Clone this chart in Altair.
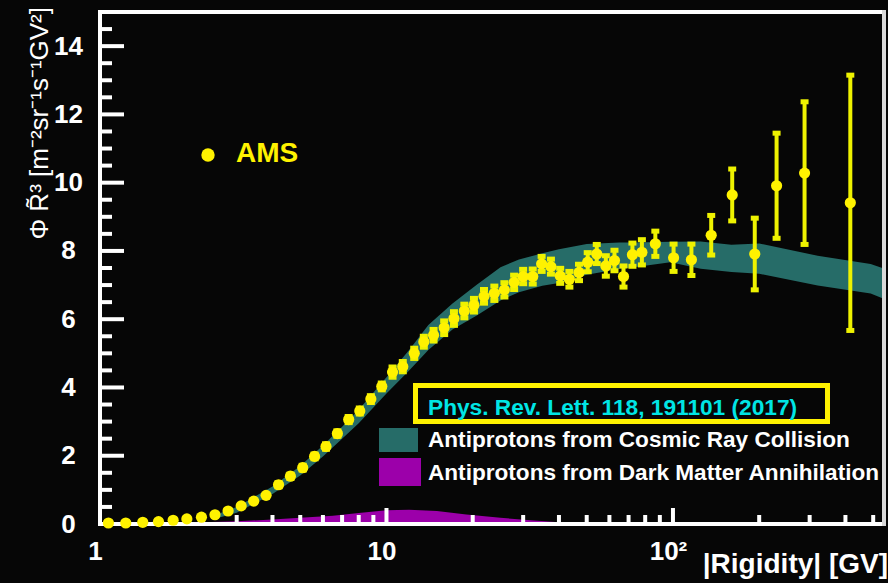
import altair as alt
import pandas as pd

# ---------------- data ----------------
rigidity = [1.07, 1.23, 1.41, 1.60, 1.80, 2.01, 2.26, 2.52, 2.80, 3.11,
            3.44, 3.80, 4.20, 4.62, 5.10, 5.61, 6.15, 6.74, 7.38, 8.07,
            8.82, 9.63, 10.5, 11.4, 12.5, 13.5, 14.6, 15.9, 17.2, 18.7,
            20.2, 21.9, 23.8, 25.8, 27.9, 30.0, 32.4, 34.8, 37.5, 40.4,
            43.5, 47.0, 50.4, 54.2, 58.3, 62.5, 67.2, 72.2, 77.9, 86.8,
            100.5, 116, 136, 161, 193, 230, 288, 416]
flux = [0.03, 0.03, 0.05, 0.07, 0.11, 0.15, 0.20, 0.27, 0.38, 0.53,
        0.67, 0.84, 1.15, 1.40, 1.65, 1.98, 2.27, 2.65, 3.06, 3.31,
        3.66, 4.03, 4.45, 4.61, 5.00, 5.34, 5.53, 5.75, 6.02, 6.24,
        6.41, 6.67, 6.76, 6.86, 7.08, 7.25, 7.25, 7.62, 7.54, 7.27,
        7.17, 7.37, 7.67, 7.91, 7.56, 7.72, 7.25, 7.89, 7.96, 8.21,
        7.80, 7.74, 8.46, 9.64, 7.91, 9.91, 10.28, 9.41]
flux_err = [0.02, 0.02, 0.02, 0.02, 0.02, 0.02, 0.02, 0.02, 0.02, 0.02,
            0.02, 0.02, 0.06, 0.06, 0.07, 0.07, 0.08, 0.08, 0.09, 0.09,
            0.10, 0.10, 0.15, 0.15, 0.15, 0.16, 0.17, 0.20, 0.20, 0.20,
            0.20, 0.20, 0.21, 0.21, 0.21, 0.21, 0.22, 0.22, 0.22, 0.22,
            0.23, 0.24, 0.28, 0.28, 0.30, 0.30, 0.31, 0.34, 0.37, 0.37,
            0.40, 0.46, 0.58, 0.76, 1.05, 1.54, 2.09, 3.74]

band_rigidity = [2.5, 3, 4, 5, 6, 7, 8, 10, 12, 14, 17, 20.6, 25, 29, 35,
                 40, 50, 65, 73, 98, 125, 160, 200, 320, 490, 541]
band_low = [0.15, 0.33, 0.88, 1.42, 1.98, 2.50, 2.95, 3.82, 4.50, 5.10,
            5.70, 6.10, 6.55, 6.79, 6.98, 7.06, 7.30, 7.47, 7.52, 7.67,
            7.48, 7.38, 7.33, 6.99, 6.75, 6.61]
band_high = [0.25, 0.50, 1.10, 1.70, 2.30, 2.85, 3.35, 4.30, 5.10, 5.83,
             6.46, 7.00, 7.52, 7.75, 7.93, 8.05, 8.20, 8.25, 8.25, 8.27,
             8.28, 8.18, 8.22, 7.86, 7.62, 7.49]

dm_rigidity = [1.0, 2, 3, 4, 5, 6.5, 8, 10, 12, 15, 19, 25, 31, 40, 55]
dm_flux = [0.02, 0.04, 0.08, 0.13, 0.18, 0.24, 0.32, 0.40, 0.42, 0.38,
           0.28, 0.18, 0.12, 0.05, 0.0]

x_major_ticks = [1, 10, 100]
x_minor_ticks = [2, 3, 4, 5, 6, 7, 8, 9, 20, 30, 40, 50, 60, 70, 80, 90,
                 200, 300, 400, 500]
y_major_ticks = [0, 2, 4, 6, 8, 10, 12, 14]
y_minor_ticks = [0.5, 1, 1.5, 2.5, 3, 3.5, 4.5, 5, 5.5, 6.5, 7, 7.5, 8.5,
                 9, 9.5, 10.5, 11, 11.5, 12.5, 13, 13.5, 14.5]

x_title = "|Rigidity| [GV]"
y_title = "Φ R̃³ [m⁻²sr⁻¹s⁻¹GV²]"
ams_label = "AMS"
ref_label = "Phys. Rev. Lett. 118, 191101 (2017)"
cr_label = "Antiprotons from Cosmic Ray Collision"
dm_label = "Antiprotons from Dark Matter Annihilation"

# ---------------- style ----------------
W, H = 783, 512
FONT = "Liberation Sans"
BG = "#060606"
YEL = "#fff200"
YEL_BAR = "#eef200"
TEAL = "#266c68"
PURPLE = "#9c00aa"
CYAN = "#00e5e5"

pts = pd.DataFrame({
    "r": rigidity,
    "f": flux,
    "lo": [f - e for f, e in zip(flux, flux_err)],
    "hi": [f + e for f, e in zip(flux, flux_err)],
})
band = pd.DataFrame({"r": band_rigidity, "lo": band_low, "hi": band_high})
dm = pd.DataFrame({"r": dm_rigidity, "f": dm_flux})
ann = pd.DataFrame({"k": [0]})

xs = alt.Scale(type="log", domain=[1, 541], nice=False)
ys = alt.Scale(domain=[0, 15], nice=False, zero=False)

xax = alt.Axis(values=x_major_ticks, title=None, ticks=False, domain=False,
               grid=False, labelFont=FONT, labelFontSize=26,
               labelFontWeight="bold", labelColor="white", labelPadding=14,
               labelOffset=-5, labelFlush=False, labelOverlap=False,
               labelExpr="datum.value == 100 ? '10²' : datum.value == 10 ? '10' : '1'")
yax = alt.Axis(values=y_major_ticks, title=None, ticks=False, domain=False,
               grid=False, labelFont=FONT, labelFontSize=26,
               labelFontWeight="bold", labelColor="white", labelPadding=32,
               labelAlign="center", labelBaseline="middle", format="d",
               labelFlush=False, labelOverlap=False)

X = lambda f: alt.X(f, type="quantitative", scale=xs, axis=xax)
Y = lambda f: alt.Y(f, type="quantitative", scale=ys, axis=yax)

dm_area = alt.Chart(dm).mark_area(color=PURPLE, clip=True).encode(
    x=X("r"), y=Y("f"))

band_area = alt.Chart(band).mark_area(color=TEAL, clip=True).encode(
    x=X("r"), y=Y("lo"), y2="hi")

xt_major = alt.Chart(pd.DataFrame({"t": x_major_ticks})).mark_rule(
    color="white", strokeWidth=4).encode(
    x=X("t"), y=alt.value(H), y2=alt.value(H - 16))
xt_minor = alt.Chart(pd.DataFrame({"t": x_minor_ticks})).mark_rule(
    color="white", strokeWidth=4).encode(
    x=X("t"), y=alt.value(H), y2=alt.value(H - 9))
yt_major = alt.Chart(pd.DataFrame({"t": y_major_ticks})).mark_rule(
    color="white", strokeWidth=4).encode(
    y=Y("t"), x=alt.value(0), x2=alt.value(24))
yt_minor = alt.Chart(pd.DataFrame({"t": y_minor_ticks})).mark_rule(
    color="white", strokeWidth=4).encode(
    y=Y("t"), x=alt.value(0), x2=alt.value(12))

frame_top = alt.Chart(ann).mark_rule(color="white", strokeWidth=4).encode(
    x=alt.value(-2), x2=alt.value(W), y=alt.value(0))
frame_bottom = alt.Chart(ann).mark_rule(color="white", strokeWidth=4).encode(
    x=alt.value(-2), x2=alt.value(W), y=alt.value(H))
frame_left = alt.Chart(ann).mark_rule(color="white", strokeWidth=4).encode(
    x=alt.value(0), y=alt.value(-2), y2=alt.value(H + 2))
frame_right = alt.Chart(ann).mark_rule(color="#d9d9d9", strokeWidth=4).encode(
    x=alt.value(W + 1), y=alt.value(-2), y2=alt.value(H + 2))

err_rules = alt.Chart(pts).mark_rule(color=YEL_BAR, strokeWidth=4).encode(
    x=X("r"), y=Y("lo"), y2="hi")
cap_lo = alt.Chart(pts).mark_tick(orient="horizontal", size=8, thickness=5,
                                  color=YEL_BAR, opacity=1).encode(
    x=X("r"), y=Y("lo"))
cap_hi = alt.Chart(pts).mark_tick(orient="horizontal", size=8, thickness=5,
                                  color=YEL_BAR, opacity=1).encode(
    x=X("r"), y=Y("hi"))
dots = alt.Chart(pts).mark_circle(size=125, color=YEL, opacity=1).encode(
    x=X("r"), y=Y("f"))

def txt(s, x, y, **kw):
    return alt.Chart(ann).mark_text(text=s, font=FONT, **kw).encode(
        x=alt.value(x), y=alt.value(y))

ams_dot = alt.Chart(ann).mark_circle(size=180, color=YEL, opacity=1).encode(
    x=alt.value(108), y=alt.value(143))
ams_text = txt(ams_label, 136, 150, fontSize=28, fontWeight="bold",
               color=YEL, align="left", baseline="alphabetic")

ref_box = alt.Chart(ann).mark_rect(fill=None, stroke=YEL, strokeWidth=5).encode(
    x=alt.value(315.5), x2=alt.value(727.5), y=alt.value(373.5), y2=alt.value(409.5))
ref_text = txt(ref_label, 328, 403, fontSize=22.7, fontWeight="bold",
               color=CYAN, align="left", baseline="alphabetic")
cr_sw = alt.Chart(ann).mark_rect(fill=TEAL).encode(
    x=alt.value(279), x2=alt.value(318), y=alt.value(416), y2=alt.value(440))
cr_text = txt(cr_label, 328, 435, fontSize=22.6, fontWeight="bold",
              color="white", align="left", baseline="alphabetic")
dm_sw = alt.Chart(ann).mark_rect(fill=PURPLE).encode(
    x=alt.value(279), x2=alt.value(321), y=alt.value(446), y2=alt.value(474))
dm_text = txt(dm_label, 328, 468, fontSize=22.6, fontWeight="bold",
              color="white", align="left", baseline="alphabetic")

x_title_t = txt(x_title, 788, 561, fontSize=28, fontWeight="bold",
                color="white", align="right", baseline="alphabetic")
y_title_t = txt(y_title, -52, -5, fontSize=26, color="white", angle=270,
                align="right", baseline="alphabetic")

chart = alt.layer(
    dm_area, band_area,
    xt_major, xt_minor, yt_major, yt_minor,
    frame_top, frame_bottom, frame_left, frame_right,
    err_rules, cap_lo, cap_hi, dots,
    ams_dot, ams_text, ref_box, ref_text, cr_sw, cr_text, dm_sw, dm_text,
    x_title_t, y_title_t,
).properties(
    width=W, height=H,
    autosize=alt.AutoSizeParams(type="none"),
    padding={"left": 100, "top": 12, "right": 5, "bottom": 59},
    background=BG,
).configure_view(stroke=None)

chart.save("out.html", embed_options={"renderer": "svg", "actions": False})
